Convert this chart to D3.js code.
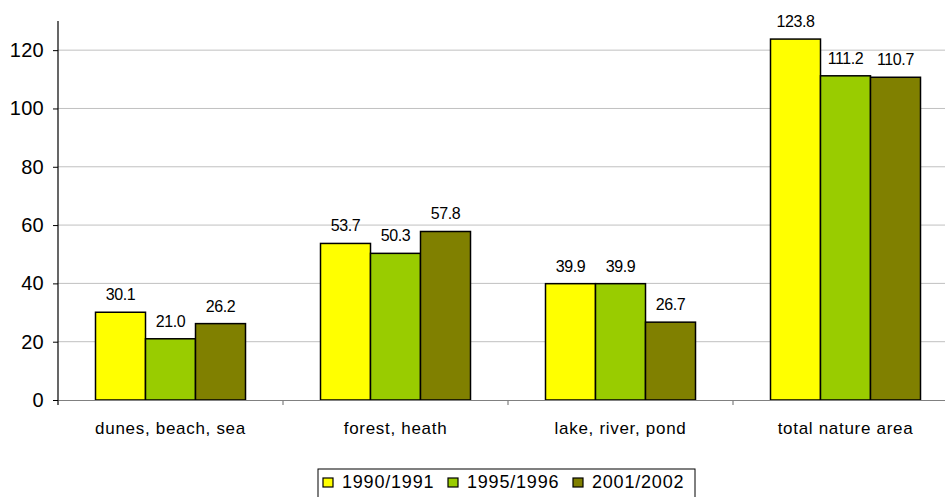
<!DOCTYPE html>
<html>
<head>
<meta charset="utf-8">
<script src="https://cdn.jsdelivr.net/npm/d3@7"></script>
<style>
  html, body { margin: 0; padding: 0; background: #fff; }
  svg { display: block; font-family: "Liberation Sans", Arial, sans-serif; }
</style>
</head>
<body>
<svg id="chart" width="945" height="497"></svg>
<script>
// Nature area by category, three survey periods
const categories = ["dunes, beach, sea", "forest, heath", "lake, river, pond", "total nature area"];
const seriesNames = ["1990/1991", "1995/1996", "2001/2002"];
const values1990 = [30.1, 53.7, 39.9, 123.8];
const values1995 = [21.0, 50.3, 39.9, 111.2];
const values2001 = [26.2, 57.8, 26.7, 110.7];
const yTicks = [0, 20, 40, 60, 80, 100, 120];
const colors = ["#FFFF00", "#99CC00", "#808000"];

const series = [values1990, values1995, values2001];

const svg = d3.select("#chart");
const plotLeft = 58, plotRight = 958, plotTop = 21, plotBottom = 400;

const x = d3.scaleBand().domain(categories).range([plotLeft, plotRight]).paddingInner(0).paddingOuter(0);
const xInner = d3.scaleBand().domain(seriesNames).range([0, x.bandwidth()]).paddingInner(0).paddingOuter(0.75);
const y = d3.scaleLinear().domain([0, 130]).range([plotBottom, plotTop]);

// gridlines
svg.append("g")
  .selectAll("line")
  .data(yTicks.filter(d => d > 0))
  .join("line")
  .attr("x1", plotLeft).attr("x2", plotRight)
  .attr("y1", d => y(d)).attr("y2", d => y(d))
  .attr("stroke", "#c0c0c0").attr("stroke-width", 1);

// bars
const groups = svg.append("g")
  .selectAll("g")
  .data(categories)
  .join("g")
  .attr("transform", d => `translate(${x(d)},0)`);

const cells = (c, ci) => seriesNames.map((s, si) => ({ s, si, v: series[si][ci] }));

groups.selectAll("rect")
  .data(cells)
  .join("rect")
  .attr("x", d => xInner(d.s))
  .attr("width", xInner.bandwidth())
  .attr("y", d => y(d.v))
  .attr("height", d => y(0) - y(d.v))
  .attr("fill", d => colors[d.si])
  .attr("stroke", "#000").attr("stroke-width", 1.5);

groups.selectAll("text")
  .data(cells)
  .join("text")
  .attr("x", d => xInner(d.s) + xInner.bandwidth() / 2)
  .attr("y", d => y(d.v) - 12)
  .attr("text-anchor", "middle")
  .attr("font-size", 16)
  .attr("letter-spacing", -0.4)
  .attr("fill", "#000")
  .text(d => d.v.toFixed(1));

// x axis baseline with category separators
const xAxis = d3.axisBottom(x).tickSize(0).tickPadding(22);
const gx = svg.append("g").attr("transform", `translate(0,${plotBottom})`).call(xAxis);
gx.select(".domain").attr("stroke", "#808080").attr("stroke-width", 1.2);
gx.selectAll(".tick text").attr("font-size", 17).attr("letter-spacing", 0.7)
  .attr("fill", "#000").attr("font-family", "Liberation Sans, Arial, sans-serif");
svg.append("g")
  .selectAll("line")
  .data(categories.slice(1))
  .join("line")
  .attr("x1", d => x(d)).attr("x2", d => x(d))
  .attr("y1", plotBottom).attr("y2", plotBottom + 5)
  .attr("stroke", "#808080").attr("stroke-width", 1.2);

// y axis
const yAxis = d3.axisLeft(y).tickValues(yTicks).tickSize(5).tickPadding(9);
const gy = svg.append("g").attr("transform", `translate(${plotLeft},0)`).call(yAxis);
gy.select(".domain").attr("d", `M-0,${plotTop}V${plotBottom + 5}`).attr("stroke", "#000").attr("stroke-width", 1.2);
gy.selectAll(".tick line").attr("stroke", "#000");
gy.selectAll(".tick text").attr("font-size", 20).attr("letter-spacing", 0.3)
  .attr("fill", "#000").attr("font-family", "Liberation Sans, Arial, sans-serif");

// legend
const legW = 377, legX = 318, legY = 469;
const leg = svg.append("g").attr("transform", `translate(${legX},${legY})`);
leg.append("rect").attr("x", 0).attr("y", 0).attr("width", legW).attr("height", 40)
  .attr("fill", "#fff").attr("stroke", "#000").attr("stroke-width", 1);
const item = leg.selectAll("g").data(seriesNames).join("g")
  .attr("transform", (d, i) => `translate(${5 + i * 125},0)`);
item.append("rect").attr("x", 0).attr("y", 9).attr("width", 10).attr("height", 9)
  .attr("fill", (d, i) => colors[i]).attr("stroke", "#000").attr("stroke-width", 1.2);
item.append("text").attr("x", 19).attr("y", 18.5).attr("font-size", 18).attr("letter-spacing", 0.8)
  .attr("fill", "#000").text(d => d);
</script>
</body>
</html>
